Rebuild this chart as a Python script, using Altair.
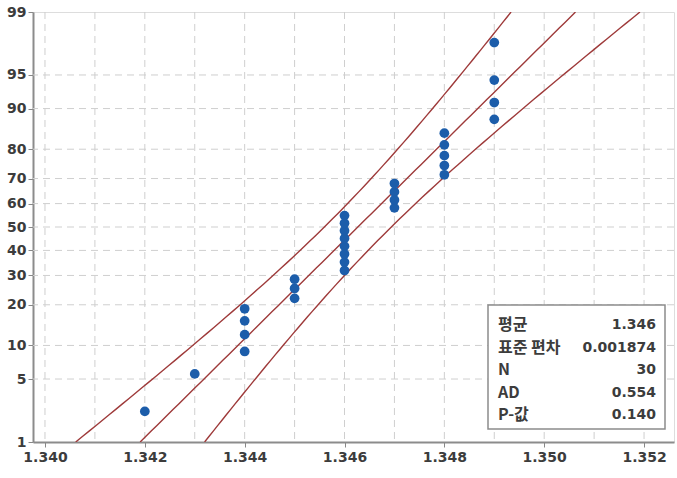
import altair as alt
import pandas as pd
import numpy as np
from statistics import NormalDist

nd = NormalDist()

# Observed values (sorted) and their plotted percentiles
values = [1.342, 1.343,
          1.344, 1.344, 1.344, 1.344,
          1.345, 1.345, 1.345,
          1.346, 1.346, 1.346, 1.346, 1.346, 1.346, 1.346, 1.346,
          1.347, 1.347, 1.347, 1.347,
          1.348, 1.348, 1.348, 1.348, 1.348,
          1.349, 1.349, 1.349, 1.349]
percents = [2.3, 5.6, 8.9, 12.2, 15.5, 18.8, 22.0, 25.3, 28.6, 31.9,
            35.2, 38.5, 41.8, 45.1, 48.4, 51.6, 54.9, 58.2, 61.5, 64.8,
            68.1, 71.4, 74.7, 78.0, 81.3, 84.5, 87.8, 91.1, 94.4, 97.7]

y_ticks = [1, 5, 10, 20, 30, 40, 50, 60, 70, 80, 90, 95, 99]
y_grid = [5, 10, 20, 30, 40, 50, 60, 70, 80, 90, 95]
x_ticks = [1.340, 1.342, 1.344, 1.346, 1.348, 1.350, 1.352]
x_grid = [1.340, 1.341, 1.342, 1.343, 1.344, 1.345, 1.346, 1.347, 1.348,
          1.349, 1.350, 1.351, 1.352]

stat_labels = ["평균", "표준 편차", "N", "AD", "P-값"]
stat_values = ["1.346", "0.001874", "30", "0.554", "0.140"]

n = len(values)
mu = float(np.mean(values))
sd = float(np.std(values, ddof=1))

zlo = nd.inv_cdf(0.01)
zhi = nd.inv_cdf(0.99)

pts = pd.DataFrame({"x": values, "z": [nd.inv_cdf(p / 100) for p in percents]})

zs = np.linspace(zlo, zhi, 80)
half = 1.96 * sd * np.sqrt(1 / n + zs ** 2 / (2 * n))
fit_rows = []
for name, xs in [("fit", mu + zs * sd), ("lo", mu + zs * sd - half), ("hi", mu + zs * sd + half)]:
    for zz, xx in zip(zs, xs):
        fit_rows.append({"line": name, "z": float(zz), "x": float(xx)})
lines = pd.DataFrame(fit_rows)

xscale = alt.Scale(domain=[1.33976, 1.35260], nice=False, zero=False)
yscale = alt.Scale(domain=[zlo, zhi], nice=False, zero=False)

FONT = "DejaVu Sans"
LBL = "#3c3c3c"

xaxis = alt.Axis(values=x_ticks, format=".3f", title=None, grid=False,
                 labelFont=FONT, labelFontSize=14, labelFontWeight="bold",
                 labelColor=LBL, tickSize=5, tickColor="#888",
                 domainColor="#8c8c8c", domainWidth=2, labelPadding=3,
                 labelFlush=False)
yaxis = alt.Axis(values=[nd.inv_cdf(p / 100) for p in y_ticks],
                 labelExpr="format(round(cumulativeNormal(datum.value)*100), 'd')",
                 title=None, grid=False,
                 labelFont=FONT, labelFontSize=14, labelFontWeight="bold",
                 labelColor=LBL, tickSize=5, tickColor="#888",
                 domainColor="#8c8c8c", domainWidth=2, labelPadding=2,
                 labelFlush=False)

xg = alt.Chart(pd.DataFrame({"x": x_grid})).mark_rule(
    color="#cfcfcf", strokeDash=[7, 5], strokeWidth=1
).encode(x=alt.X("x:Q", scale=xscale, axis=xaxis))

yg = alt.Chart(pd.DataFrame({"z": [nd.inv_cdf(p / 100) for p in y_grid]})).mark_rule(
    color="#cfcfcf", strokeDash=[7, 5], strokeWidth=1
).encode(y=alt.Y("z:Q", scale=yscale, axis=yaxis))

ln = alt.Chart(lines).mark_line(color="#9e3a3a", strokeWidth=1.4, clip=True).encode(
    x=alt.X("x:Q", scale=xscale, axis=xaxis),
    y=alt.Y("z:Q", scale=yscale, axis=yaxis),
    detail="line:N",
    order="z:Q",
)

dots = alt.Chart(pts).mark_circle(color="#1c5daa", opacity=1, size=95).encode(
    x=alt.X("x:Q", scale=xscale, axis=xaxis),
    y=alt.Y("z:Q", scale=yscale, axis=yaxis),
)

box = alt.Chart(pd.DataFrame({"a": [0]})).mark_rect(
    fill="white", stroke="#8c8c8c", strokeWidth=1.5
).encode(x=alt.value(455), x2=alt.value(632), y=alt.value(293), y2=alt.value(417))

texts = []
for i, (lab, val) in enumerate(zip(stat_labels, stat_values)):
    d = pd.DataFrame({"lab": [lab], "val": [val]})
    yy = 313 + 22.5 * i
    texts.append(alt.Chart(d).mark_text(
        align="left", baseline="middle", font="Noto Sans CJK KR",
        fontSize=16, fontWeight="bold", color=LBL
    ).encode(x=alt.value(465), y=alt.value(yy), text="lab:N"))
    texts.append(alt.Chart(d).mark_text(
        align="right", baseline="middle", font=FONT,
        fontSize=14, fontWeight="bold", color=LBL
    ).encode(x=alt.value(623), y=alt.value(yy), text="val:N"))

chart = alt.layer(xg, yg, ln, dots, box, *texts).properties(
    width=641, height=430,
    autosize=alt.AutoSizeParams(type="none"),
    padding={"left": 33, "top": 12, "right": 3, "bottom": 36},
).configure_view(stroke="#a8a8a8", strokeWidth=1.5).configure(background="white")

chart.save("out.html", embed_options={"renderer": "svg", "actions": False})
